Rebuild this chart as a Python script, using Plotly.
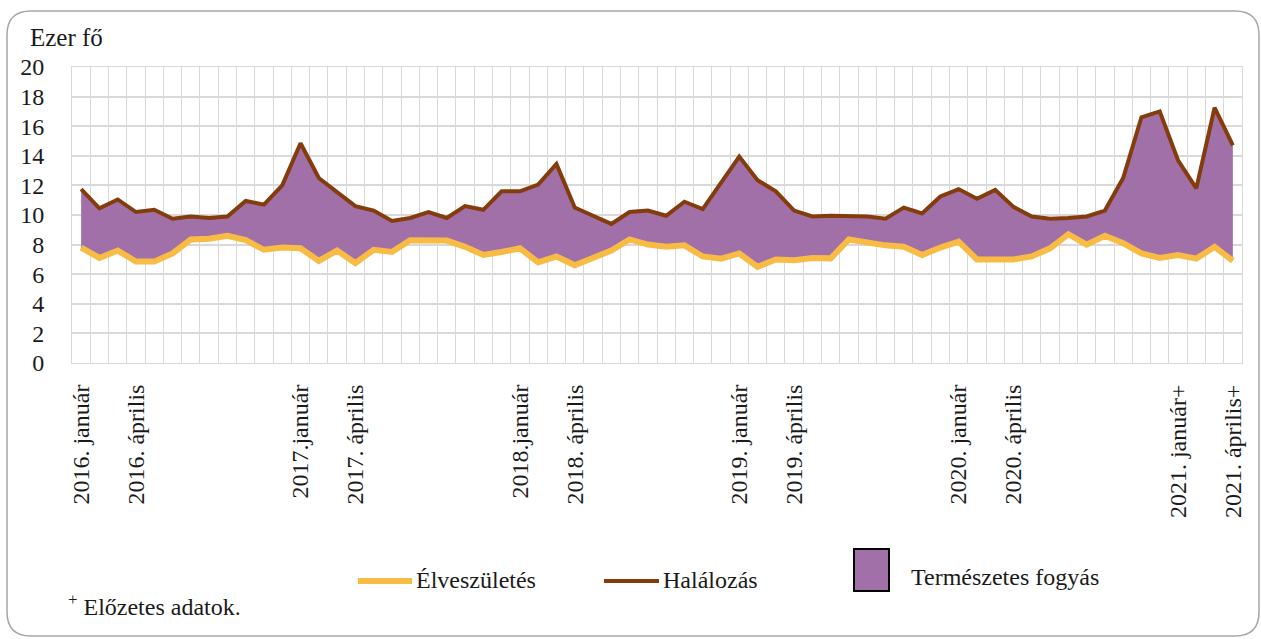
import plotly.graph_objects as go

# ---------------- data ----------------
years = [2016, 2017, 2018, 2019, 2020, 2021]
month_names = ["január", "február", "március", "április", "május", "június",
               "július", "augusztus", "szeptember", "október", "november", "december"]
months = [f"{y}. {m}" for y in years for m in month_names][:64]  # 2016 jan – 2021 ápr

births = [7.8, 7.1, 7.6, 6.85, 6.85, 7.4, 8.35, 8.4, 8.6, 8.3, 7.65, 7.8,
          7.75, 6.9, 7.6, 6.75, 7.65, 7.5, 8.3, 8.3, 8.27, 7.85, 7.3, 7.5,
          7.75, 6.8, 7.2, 6.6, 7.05, 7.6, 8.35, 8.0, 7.85, 7.95, 7.2, 7.05,
          7.4, 6.5, 7.0, 6.95, 7.1, 7.07, 8.35, 8.1, 7.95, 7.85, 7.3, 7.8,
          8.2, 7.0, 7.0, 7.0, 7.2, 7.75, 8.7, 8.0, 8.6, 8.1, 7.4, 7.1,
          7.3, 7.05, 7.85, 6.9]
deaths = [11.75, 10.45, 11.05, 10.2, 10.35, 9.75, 9.9, 9.8, 9.9, 10.95, 10.7, 12.0,
          14.85, 12.5, 11.55, 10.6, 10.3, 9.6, 9.8, 10.2, 9.8, 10.6, 10.35, 11.6,
          11.6, 12.05, 13.45, 10.5, 9.95, 9.4, 10.2, 10.3, 9.95, 10.9, 10.4, 12.15,
          13.95, 12.35, 11.6, 10.3, 9.9, 9.95, 9.95, 9.9, 9.75, 10.5, 10.1, 11.25,
          11.75, 11.1, 11.7, 10.55, 9.9, 9.75, 9.8, 9.9, 10.3, 12.5, 16.6, 17.0,
          13.7, 11.8, 17.25, 14.7]

tick_months = ["2016. január", "2016. április", "2017. január", "2017. április",
               "2018. január", "2018. április", "2019. január", "2019. április",
               "2020. január", "2020. április", "2021. január", "2021. április"]
tick_labels = ["2016. január", "2016. április", "2017.január", "2017. április",
               "2018.január", "2018. április", "2019. január", "2019. április",
               "2020. január", "2020. április", "2021. január+", "2021. április+"]

# ---------------- styles ----------------
FONT = "Liberation Serif"
C_BIRTH = "#F8BC45"
C_DEATH = "#843C0C"
C_FILL = "#A270A8"
C_GRID = "#D9D9D9"
TXT = "#1a1a1a"

W, H = 1261, 639
L, R, T, B = 72, 1242, 67, 363  # plot area in pixels


def px(xp):
    return (xp - L) / (R - L)


def py(yp):
    return (B - yp) / (B - T)


x = list(range(len(months)))
tickvals = [months.index(m) for m in tick_months]

fig = go.Figure()
fig.add_trace(go.Scatter(x=x, y=births, mode="lines", line=dict(width=0, color=C_BIRTH),
                         showlegend=False, hoverinfo="skip"))
fig.add_trace(go.Scatter(x=x, y=deaths, mode="lines", line=dict(width=0, color=C_DEATH),
                         fill="tonexty", fillcolor=C_FILL, name="Természetes fogyás",
                         showlegend=False, hoverinfo="skip"))
fig.add_trace(go.Scatter(x=x, y=births, mode="lines", name="Élveszületés",
                         line=dict(width=6, color=C_BIRTH), showlegend=False))
fig.add_trace(go.Scatter(x=x, y=deaths, mode="lines", name="Halálozás",
                         line=dict(width=4, color=C_DEATH), showlegend=False))

fig.update_layout(
    width=W, height=H,
    margin=dict(l=L, r=W - R, t=T, b=H - B),
    paper_bgcolor="white", plot_bgcolor="white",
    font=dict(family=FONT, size=23, color=TXT),
    showlegend=False,
    xaxis=dict(
        range=[-0.5, len(months) - 0.5],
        tickmode="array", tickvals=tickvals, ticktext=tick_labels,
        tickangle=-90, showgrid=False, ticks="", ticklabelstandoff=11,
        tickfont=dict(family=FONT, size=24, color=TXT),
        showline=True, linecolor=C_GRID, linewidth=1, mirror=True,
        zeroline=False,
        minor=dict(tickmode="linear", tick0=-0.5, dtick=1, showgrid=True,
                   gridcolor=C_GRID, gridwidth=1),
    ),
    yaxis=dict(
        range=[0, 20], dtick=2, tick0=0, showgrid=True, gridcolor=C_GRID, gridwidth=1.5,
        ticks="", ticklabelstandoff=22, zeroline=False,
        tickfont=dict(family=FONT, size=24, color=TXT),
        showline=True, linecolor=C_GRID, linewidth=1, mirror=True,
    ),
)

# rounded frame
x0, x1 = px(7), px(1259)
yt, yb = py(11), py(636)
rx, ry = 24 / (R - L), 24 / (B - T)
path = (f"M {x0+rx},{yt} L {x1-rx},{yt} Q {x1},{yt} {x1},{yt-ry} "
        f"L {x1},{yb+ry} Q {x1},{yb} {x1-rx},{yb} L {x0+rx},{yb} "
        f"Q {x0},{yb} {x0},{yb+ry} L {x0},{yt-ry} Q {x0},{yt} {x0+rx},{yt} Z")
shapes = [dict(type="path", xref="paper", yref="paper", path=path,
               line=dict(color="#A6A6A6", width=1.5), layer="below")]

# manual legend
shapes += [
    dict(type="line", xref="paper", yref="paper", x0=px(358), x1=px(412),
         y0=py(581), y1=py(581), line=dict(color=C_BIRTH, width=6)),
    dict(type="line", xref="paper", yref="paper", x0=px(604), x1=px(659),
         y0=py(581), y1=py(581), line=dict(color=C_DEATH, width=4)),
    dict(type="rect", xref="paper", yref="paper", x0=px(854), x1=px(889),
         y0=py(591), y1=py(549), fillcolor=C_FILL, line=dict(color="black", width=2)),
]
annotations = [
    dict(text="Élveszületés", x=px(414), y=py(580), xanchor="left", yanchor="middle"),
    dict(text="Halálozás", x=px(661), y=py(580), xanchor="left", yanchor="middle"),
    dict(text="Természetes fogyás", x=px(909), y=py(577), xanchor="left", yanchor="middle"),
    dict(text="<sup>+</sup> Előzetes adatok.", x=px(66), y=py(605), xanchor="left",
         yanchor="middle"),
    dict(text="Ezer fő", x=px(28), y=py(37), xanchor="left", yanchor="middle",
         font=dict(size=25)),
]
for a in annotations:
    a.update(xref="paper", yref="paper", showarrow=False)
    a.setdefault("font", dict(size=24))

fig.update_layout(shapes=shapes, annotations=annotations)
fig.write_html("out.html", post_script="document.body.style.margin='0';",
               config={"displayModeBar": False})
